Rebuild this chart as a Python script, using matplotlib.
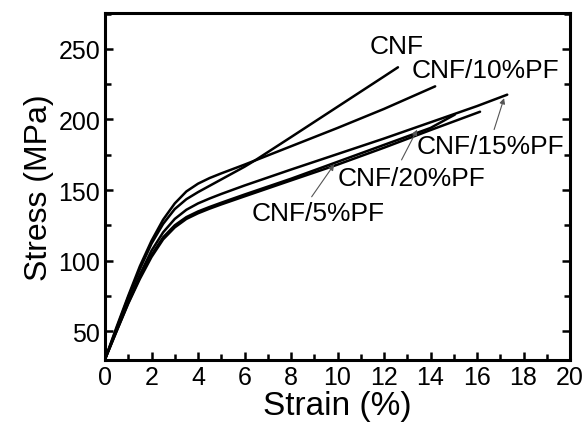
import numpy as np
import matplotlib
matplotlib.use('Agg')
import matplotlib.pyplot as plt
from matplotlib.ticker import MultipleLocator

plt.rcParams['font.family'] = ['Liberation Sans', 'DejaVu Sans']

# strain (%) / stress (MPa)
cnf_x = [0, 0.5, 1, 1.5, 2, 2.5, 3, 3.5, 4, 4.5, 5, 6, 6.5, 8, 10, 12, 12.6]
cnf_y = [30, 52, 74, 94, 112, 126, 136.5, 143.5, 148.5, 153, 157.5, 166.5, 171.5, 187.5, 209, 230.5, 237]

pf10_x = [0, 0.5, 1, 1.5, 2, 2.5, 3, 3.5, 4, 4.5, 5, 6, 7, 8, 10, 12, 14.2]
pf10_y = [30, 53, 75, 96, 114, 129, 140.5, 149, 154.5, 158.5, 161.8, 168, 174.5, 181, 194, 207.5, 223.5]

pf15_x = [0, 0.5, 1, 1.5, 2, 2.5, 3, 3.5, 4, 4.5, 5, 6, 8, 10, 12, 14, 16, 17.3]
pf15_y = [30, 51, 71, 90, 107, 120, 129.5, 136, 140.5, 144, 147.2, 153.2, 164.5, 175.5, 186.5, 198, 209.5, 217.6]

pf5_x = [0, 0.5, 1, 1.5, 2, 2.5, 3, 3.5, 4, 4.5, 5, 6, 8, 10, 12, 14, 15.05]
pf5_y = [30, 50, 70, 88, 104, 116.5, 125, 130.8, 134.8, 138, 141, 146.8, 158, 170, 182, 194, 203.5]

pf20_x = [0, 0.5, 1, 1.5, 2, 2.5, 3, 3.5, 4, 4.5, 5, 6, 8, 10, 12, 14, 16.13]
pf20_y = [30, 50, 69.5, 87, 102.5, 115, 123.5, 129.5, 133.5, 136.8, 139.8, 145.5, 156.8, 168, 180, 192.5, 205.5]

fig = plt.figure(figsize=(5.85, 4.27), dpi=100)
ax = fig.add_axes([105 / 585, 66 / 427, 465 / 585, 347 / 427])

for xs, ys in [(cnf_x, cnf_y), (pf10_x, pf10_y), (pf15_x, pf15_y),
               (pf5_x, pf5_y), (pf20_x, pf20_y)]:
    ax.plot(xs, ys, color='black', lw=1.8, solid_capstyle='round',
            solid_joinstyle='round')

ax.set_xlim(0, 20)
ax.set_ylim(29.5, 275.5)
ax.xaxis.set_major_locator(MultipleLocator(2))
ax.xaxis.set_minor_locator(MultipleLocator(1))
ax.yaxis.set_major_locator(MultipleLocator(50))
ax.yaxis.set_minor_locator(MultipleLocator(25))
ax.tick_params(which='both', direction='in', width=1.8, labelsize=18,
               right=True, top=False)
ax.tick_params(which='major', length=6)
ax.tick_params(which='minor', length=4)
for s in ax.spines.values():
    s.set_linewidth(2.2)

ax.set_xlabel('Strain (%)', fontsize=24, labelpad=1)
ax.set_ylabel('Stress (MPa)', fontsize=23, labelpad=3)

fs = 19
ax.text(11.4, 251.8, 'CNF', fontsize=fs, va='center')
ax.text(13.2, 234.8, 'CNF/10%PF', fontsize=fs, va='center')
arrow = dict(arrowstyle='-|>', color='#555555', lw=0.8, mutation_scale=8)
ax.text(13.4, 181.5, 'CNF/15%PF', fontsize=fs, va='center')
ax.annotate('', xy=(17.2, 217), xytext=(16.7, 191), arrowprops=arrow)
ax.text(10.0, 158.5, 'CNF/20%PF', fontsize=fs, va='center')
ax.annotate('', xy=(13.48, 194.5), xytext=(12.7, 169.6), arrowprops=arrow)
ax.text(6.3, 133.7, 'CNF/5%PF', fontsize=fs, va='center')
ax.annotate('', xy=(9.92, 169.6), xytext=(8.82, 143.6), arrowprops=arrow)

fig.savefig('out.png', dpi=100)
